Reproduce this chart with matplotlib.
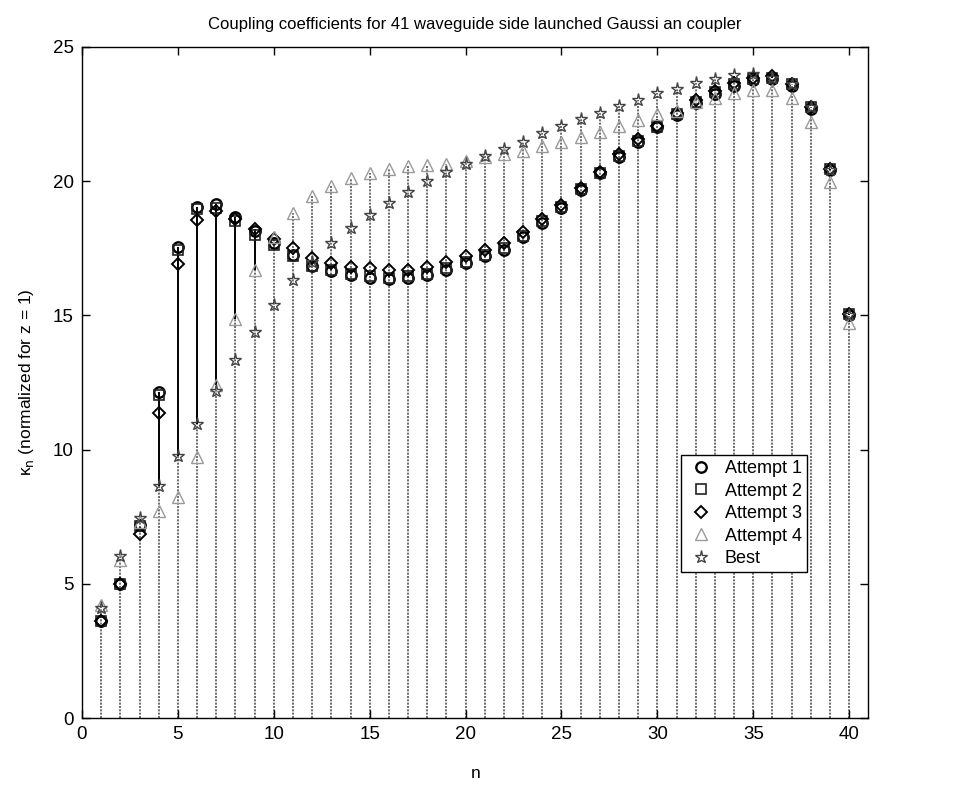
import numpy as np
import matplotlib
matplotlib.use('Agg')
import matplotlib.pyplot as plt

plt.rcParams['font.family'] = ['Liberation Sans', 'DejaVu Sans']

n = np.arange(1, 41)

attempt1 = np.array([3.6, 5.0, 7.2, 12.15, 17.55, 19.05, 19.15, 18.65, 18.15, 17.7,
                     17.25, 16.85, 16.65, 16.5, 16.4, 16.35, 16.4, 16.5, 16.7, 16.95,
                     17.2, 17.45, 17.9, 18.45, 19.0, 19.65, 20.3, 20.9, 21.45, 22.0,
                     22.45, 22.9, 23.25, 23.55, 23.75, 23.8, 23.55, 22.7, 20.4, 15.0])
attempt2 = np.array([3.6, 5.0, 7.15, 12.05, 17.45, 18.95, 19.0, 18.5, 18.0, 17.6,
                     17.2, 16.85, 16.7, 16.55, 16.45, 16.4, 16.45, 16.55, 16.75, 17.0,
                     17.25, 17.5, 17.95, 18.5, 19.05, 19.7, 20.3, 20.95, 21.5, 22.0,
                     22.5, 22.95, 23.3, 23.6, 23.8, 23.85, 23.6, 22.75, 20.45, 15.05])
attempt3 = np.array([3.6, 5.0, 6.85, 11.35, 16.9, 18.55, 18.9, 18.6, 18.2, 17.85,
                     17.5, 17.15, 16.95, 16.8, 16.75, 16.7, 16.7, 16.8, 17.0, 17.2,
                     17.45, 17.7, 18.1, 18.6, 19.1, 19.75, 20.35, 21.0, 21.55, 22.05,
                     22.55, 23.0, 23.35, 23.65, 23.85, 23.9, 23.6, 22.75, 20.45, 15.05])
attempt4 = np.array([4.2, 5.9, 7.3, 7.7, 8.22, 9.71, 12.42, 14.86, 16.67, 17.9,
                     18.8, 19.45, 19.8, 20.1, 20.3, 20.45, 20.55, 20.6, 20.65, 20.75,
                     20.9, 21.0, 21.1, 21.3, 21.47, 21.65, 21.83, 22.04, 22.27, 22.5,
                     22.6, 22.95, 23.1, 23.26, 23.38, 23.38, 23.08, 22.18, 19.95, 14.7])
best = np.array([4.1, 6.05, 7.47, 8.66, 9.77, 10.94, 12.18, 13.32, 14.38, 15.4,
                 16.3, 17.0, 17.7, 18.25, 18.75, 19.2, 19.6, 20.0, 20.35, 20.65,
                 20.95, 21.2, 21.47, 21.77, 22.04, 22.3, 22.54, 22.8, 23.0, 23.26,
                 23.44, 23.64, 23.8, 23.95, 24.0, 23.85, 23.6, 22.75, 20.4, 15.0])

labels = ['Attempt 1', 'Attempt 2', 'Attempt 3', 'Attempt 4', 'Best']
xticks = [0, 5, 10, 15, 20, 25, 30, 35, 40]
yticks = [0, 5, 10, 15, 20, 25]

fig = plt.figure(figsize=(9.59, 8.06), dpi=100)
ax = fig.add_axes([0.0855, 0.109, 0.82, 0.833])

top_dotted = np.maximum(attempt4, best)
top_all = np.maximum.reduce([attempt1, attempt2, attempt3, attempt4, best])
ax.vlines(n, 0, top_dotted, colors='#555555', linestyles=(0, (1.2, 0.8)), lw=1.2, zorder=1)
mask = top_all > top_dotted
ax.vlines(n[mask], top_dotted[mask], top_all[mask], colors='k', lw=1.4, zorder=1)

ms = 7.5
ax.plot(n, attempt1, 'o', mfc='none', mec='k', ms=ms, mew=1.7, label=labels[0], zorder=3)
ax.plot(n, attempt2, 's', mfc='none', mec='#222', ms=ms - 1, mew=1.2, label=labels[1], zorder=3)
ax.plot(n, attempt3, 'D', mfc='none', mec='k', ms=ms - 1, mew=1.4, label=labels[2], zorder=3)
ax.plot(n, attempt4, '^', mfc='none', mec='#9a9a9a', ms=ms + 1, mew=1.0, label=labels[3], zorder=3)
ax.plot(n, best, '*', mfc='none', mec='#444444', ms=ms + 2, mew=1.0, label=labels[4], zorder=4)

ax.set_xlim(0, 41)
ax.set_ylim(0, 25)
ax.set_xticks(xticks)
ax.set_yticks(yticks)
ax.tick_params(direction='in', top=True, right=True, length=6, width=1, labelsize=13.5, pad=6)
for s in ax.spines.values():
    s.set_linewidth(1.0)

ax.set_xlabel('n', fontsize=12.5, labelpad=16)
ax.set_ylabel('κ$_{\\mathrm{n}}$ (normalized for z = 1)', fontsize=12.5, labelpad=12)
ax.set_title('Coupling coefficients for 41 waveguide side launched Gaussi an coupler',
             fontsize=12, pad=13)

leg = ax.legend(loc='upper left', bbox_to_anchor=(0.762, 0.392), frameon=True,
                fancybox=False, edgecolor='k', framealpha=1, fontsize=13,
                borderpad=0.3, handletextpad=0.5, labelspacing=0.3, handlelength=1.6,
                borderaxespad=0)
leg.get_frame().set_linewidth(1.0)

fig.savefig('out.png', dpi=100)
